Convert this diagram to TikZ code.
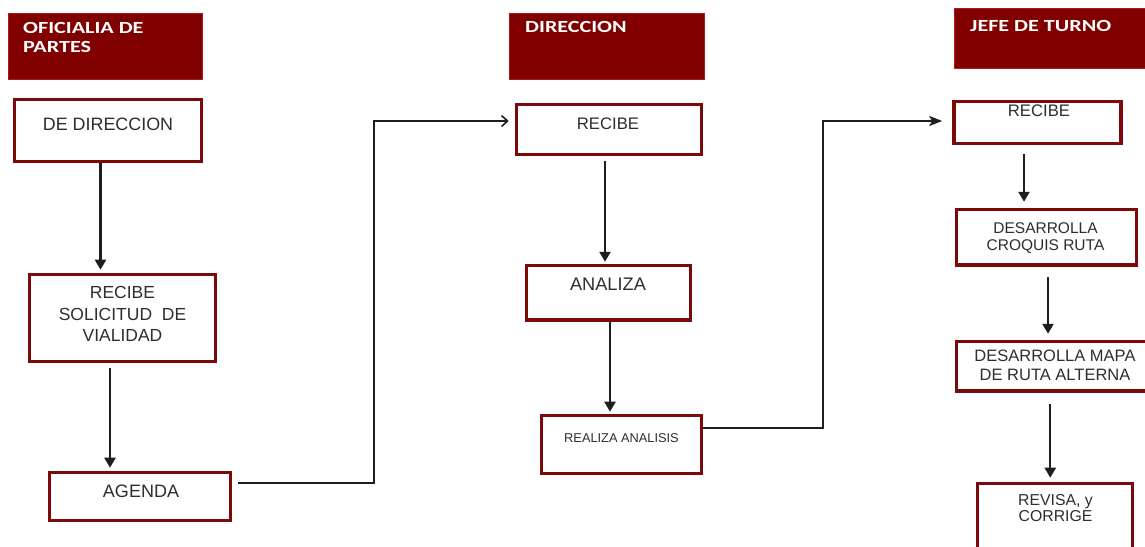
\documentclass[tikz,border=0pt]{standalone}
\usepackage{fontspec}
\setmainfont{Liberation Sans}
\newfontfamily\hdrfont[FakeStretch=1.3]{Carlito}
\usetikzlibrary{arrows.meta,calc}
\definecolor{hdrred}{HTML}{800000}
\definecolor{hdredge}{HTML}{B01818}
\definecolor{boxred}{HTML}{7D0A0A}
\definecolor{txtgray}{HTML}{2E2E2E}
\definecolor{linegray}{HTML}{1E1E1E}
\tikzset{
  hdrbox/.style={draw=hdredge, line width=0.8pt, fill=hdrred},
  hdrtxt/.style={anchor=base west, inner sep=0pt, text=white, font=\hdrfont\bfseries\fontsize{17}{19}\selectfont},
  stepbox/.style={draw=boxred, line width=3.6pt, fill=white, rectangle, inner sep=0pt},
  boxtxt/.style={anchor=base, inner sep=0pt, text=txtgray},
  flow/.style={draw=linegray, line width=2.4pt, -{Triangle[length=10pt,width=11pt]}},
  flowopen/.style={draw=linegray, line width=2.2pt, -{Straight Barb[length=6pt,width=11pt,line width=1.6pt]}},
  flowfill/.style={draw=linegray, line width=2.2pt, -{Stealth[length=13pt,width=10pt,inset=3pt]}},
}
\begin{document}
\begin{tikzpicture}[x=1pt,y=-1pt]
\useasboundingbox (0,0) rectangle (1145,546);
\clip (0,0) rectangle (1145,546);
\fill[white] (0,0) rectangle (1145,546);

% headers
\draw[hdrbox] (8,13) rectangle (202,79);
\draw[hdrbox] (509,13) rectangle (704,79);
\draw[hdrbox] (954,8) rectangle (1160,68);
\node[hdrtxt] (h1a) at (23,33.5) {OFICIALIA DE};
\node[hdrtxt] (h1b) at (23,52) {PARTES};
\node[hdrtxt] (h2) at (525,32.3) {DIRECCION};
\node[hdrtxt] (h3) at (970,31.7) {JEFE DE TURNO};

% boxes
\node[stepbox, minimum width=187pt, minimum height=62pt] (b1) at (108,130.5) {};
\node[stepbox, minimum width=186pt, minimum height=87pt] (b2) at (122.5,318) {};
\node[stepbox, minimum width=181pt, minimum height=48pt] (b3) at (140,496.5) {};
\node[stepbox, minimum width=185pt, minimum height=50pt] (b4) at (609,129.5) {};
\node[stepbox, minimum width=164pt, minimum height=54.5pt] (b5) at (608.5,292.8) {};
\node[stepbox, minimum width=160pt, minimum height=58pt] (b6) at (621.5,444.5) {};
\node[stepbox, minimum width=167pt, minimum height=42pt] (b7) at (1037.5,122.5) {};
\node[stepbox, minimum width=180pt, minimum height=55.5pt] (b8) at (1046.5,237.3) {};
\node[stepbox, minimum width=198.5pt, minimum height=49.5pt] (b9) at (1055.75,366.3) {};
\node[stepbox, minimum width=155pt, minimum height=86.5pt] (b10) at (1055,526.75) {};

% box texts
\node[boxtxt, font=\fontsize{17.9}{20}\selectfont] (t1) at (108,130.5) {DE DIRECCION};
\node[boxtxt, font=\fontsize{17.5}{20}\selectfont] (t2a) at (122.5,298) {RECIBE};
\node[boxtxt, font=\fontsize{17.5}{20}\selectfont] (t2b) at (122.5,320) {SOLICITUD\ \ DE};
\node[boxtxt, font=\fontsize{17.5}{20}\selectfont] (t2c) at (122.5,341.5) {VIALIDAD};
\node[boxtxt, font=\fontsize{18}{20}\selectfont] (t3) at (141,497) {AGENDA};
\node[boxtxt, font=\fontsize{16.7}{20}\selectfont] (t4) at (608,129.3) {RECIBE};
\node[boxtxt, font=\fontsize{18.2}{20}\selectfont] (t5) at (608,290.7) {ANALIZA};
\node[boxtxt, font=\fontsize{12.8}{15}\selectfont] (t6) at (621.5,442.7) {REALIZA ANALISIS};
\node[boxtxt, font=\fontsize{16.7}{20}\selectfont] (t7) at (1039,116.7) {RECIBE};
\node[boxtxt, font=\fontsize{15.5}{18}\selectfont] (t8a) at (1045.5,233.3) {DESARROLLA};
\node[boxtxt, font=\fontsize{15.5}{18}\selectfont] (t8b) at (1045.5,250.5) {CROQUIS RUTA};
\node[boxtxt, font=\fontsize{16.5}{18}\selectfont] (t9a) at (1055,361.7) {DESARROLLA MAPA};
\node[boxtxt, font=\fontsize{16.5}{18}\selectfont] (t9b) at (1055,380) {DE RUTA ALTERNA};
\node[boxtxt, font=\fontsize{15.8}{18}\selectfont] (t10a) at (1055.5,505) {REVISA, y};
\node[boxtxt, font=\fontsize{15.8}{18}\selectfont] (t10b) at (1055.5,521.7) {CORRIGE};

% vertical connectors
\draw[flow, shorten >=3pt] ([xshift=-7.5pt]b1.south) -- ([xshift=-7.5pt]b1.south |- b2.north);
\draw[flow, shorten <=5pt, shorten >=3pt] ([xshift=-12.5pt]b2.south) -- ([xshift=-12.5pt]b2.south |- b3.north);
\draw[flow, shorten <=5pt, shorten >=2pt] ([xshift=-4pt]b4.south) -- ([xshift=-4pt]b4.south |- b5.north);
\draw[flow, shorten >=2pt] ([xshift=1.5pt]b5.south) -- ([xshift=1.5pt]b5.south |- b6.north);
\draw[flow, shorten <=9pt, shorten >=6pt] ([xshift=-13.5pt]b7.south) -- ([xshift=-13.5pt]b7.south |- b8.north);
\draw[flow, shorten <=10pt, shorten >=6pt] ([xshift=1.5pt]b8.south) -- ([xshift=1.5pt]b8.south |- b9.north);
\draw[flow, shorten <=11pt, shorten >=4pt] ([xshift=-5.5pt]b9.south) -- ([xshift=-5.5pt]b9.south |- b10.north);

% elbow connectors
\coordinate (j1) at (374,121);
\coordinate (j2) at (823,121);
\draw[flowopen, shorten <=6pt, shorten >=6pt] ([yshift=13.5pt]b3.east) -| (j1) -- ([yshift=8.5pt]b4.west);
\draw[flowfill, shorten >=10pt] ([yshift=16.5pt]b6.east) -| (j2) -- ([yshift=1.5pt]b7.west);
\end{tikzpicture}
\end{document}
